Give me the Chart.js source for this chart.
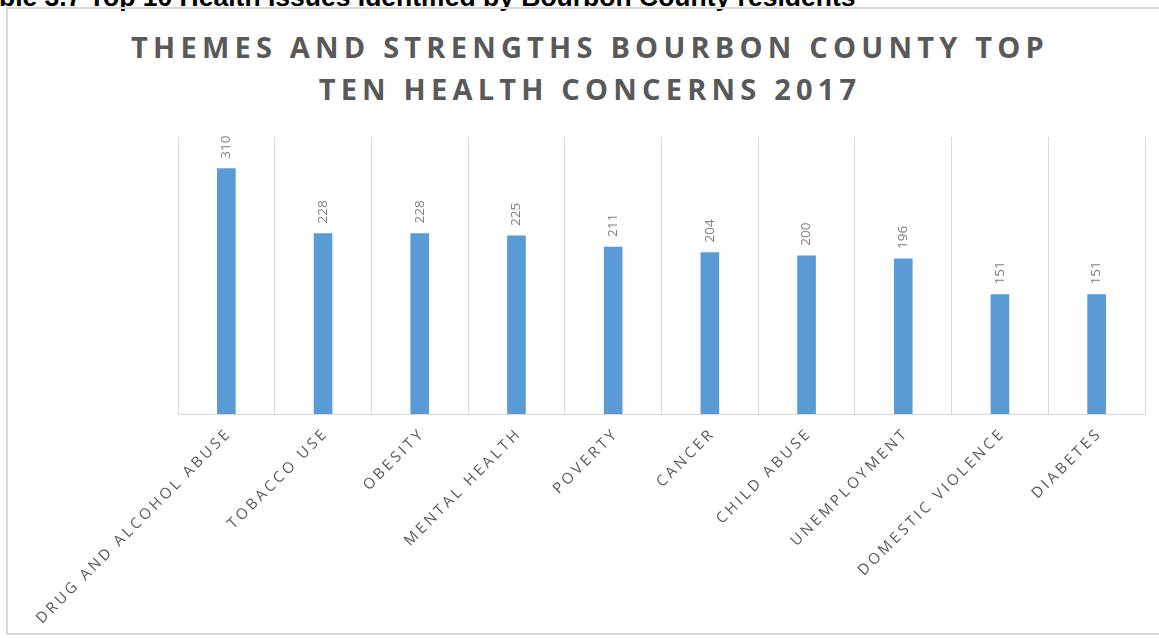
<!DOCTYPE html>
<html>
<head>
<meta charset="utf-8">
<script src="https://cdn.jsdelivr.net/npm/chart.js@4.4.0/dist/chart.umd.min.js"></script>
<style>
  html, body { margin: 0; padding: 0; background: #fff; width: 1159px; height: 638px; overflow: hidden; }
  #hdr { position: absolute; left: -30px; top: -16px; font: bold 26.5px/26px "Liberation Sans", Arial, sans-serif; color: #000; white-space: nowrap; }
  #frame { position: absolute; left: 6px; top: 7px; width: 1200px; height: 628px; border: 2px solid #d9d9d9; box-sizing: border-box; }
  #title { position: absolute; left: 0; width: 1180px; top: 26px; text-align: center; font: bold 29px/42px "Open Sans", sans-serif; letter-spacing: 5.2px; color: #595959; }
  #wrap { position: absolute; left: 0; top: 0; width: 1159px; height: 638px; }
</style>
</head>
<body>
<div id="hdr">Table 3.7 Top 10 Health Issues Identified by Bourbon County residents</div>
<div id="frame"></div>
<div id="title">THEMES AND STRENGTHS BOURBON COUNTY TOP<br>TEN HEALTH CONCERNS 2017</div>
<div id="wrap"><canvas id="c" width="1159" height="638"></canvas></div>
<script>
const categories = ["DRUG AND ALCOHOL ABUSE", "TOBACCO USE", "OBESITY", "MENTAL HEALTH", "POVERTY", "CANCER", "CHILD ABUSE", "UNEMPLOYMENT", "DOMESTIC VIOLENCE", "DIABETES"];
const values = [310, 228, 228, 225, 211, 204, 200, 196, 151, 151];
const yMax = 350;

const labelPlugin = {
  id: 'customLabels',
  afterDatasetsDraw(chart) {
    const ctx = chart.ctx;
    const meta = chart.getDatasetMeta(0);
    ctx.save();
    // data labels, rotated -90
    ctx.fillStyle = '#7f7f7f';
    ctx.font = '13.5px "Open Sans", sans-serif';
    ctx.textAlign = 'left';
    ctx.textBaseline = 'middle';
    meta.data.forEach((bar, i) => {
      ctx.save();
      ctx.translate(bar.x, bar.y - 10);
      ctx.rotate(-Math.PI / 2);
      ctx.fillText(String(values[i]), 0, 0);
      ctx.restore();
    });
    // category labels, rotated -45, letter spaced
    const xs = chart.scales.x;
    const base = chart.chartArea.bottom;
    ctx.fillStyle = '#595959';
    ctx.font = '15px "Open Sans", sans-serif';
    ctx.letterSpacing = '3.1px';
    ctx.textAlign = 'right';
    ctx.textBaseline = 'middle';
    categories.forEach((c, i) => {
      const x = xs.getPixelForValue(i);
      ctx.save();
      ctx.translate(x + 3, base + 17);
      ctx.rotate(-Math.PI / 4);
      ctx.fillText(c, 0, 0);
      ctx.restore();
    });
    ctx.restore();
  }
};

new Chart(document.getElementById('c'), {
  type: 'bar',
  data: {
    labels: categories,
    datasets: [{
      data: values,
      backgroundColor: '#5b9bd5',
      borderWidth: 0,
      barThickness: 18
    }]
  },
  options: {
    responsive: false,
    animation: false,
    events: [],
    layout: { padding: { left: 178, top: 137, right: 14, bottom: 224 } },
    plugins: { legend: { display: false }, title: { display: false }, tooltip: { enabled: false } },
    scales: {
      x: {
        grid: { color: '#d9d9d9', lineWidth: 1, offset: true, drawTicks: false },
        border: { color: '#d9d9d9', width: 1 },
        ticks: { display: false }
      },
      y: {
        display: false,
        min: 0,
        max: yMax
      }
    }
  },
  plugins: [labelPlugin]
});
</script>
</body>
</html>
